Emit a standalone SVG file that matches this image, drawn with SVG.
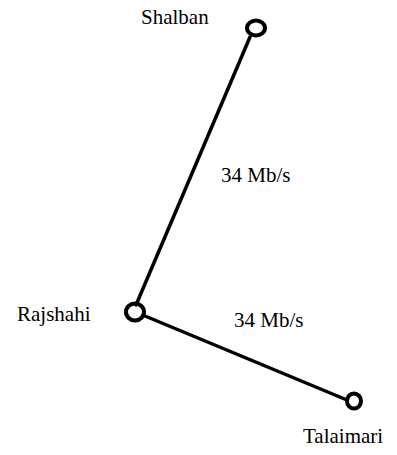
<svg xmlns="http://www.w3.org/2000/svg" width="397" height="455" viewBox="0 0 397 455">
<style>
.lbl{font-family:"Liberation Serif","DejaVu Serif","Times New Roman",serif;font-size:21px;fill:#000}
.node{fill:none;stroke:#000;stroke-width:4}
.link{stroke:#000;stroke-width:3.5;stroke-linecap:round;fill:none}
</style>
<rect width="397" height="455" fill="#fff"/>
<g id="connectors">
<line class="link" x1="136" y1="305" x2="250" y2="37"/>
<line class="link" x1="145" y1="316" x2="347" y2="400"/>
</g>
<g id="shalban">
<ellipse class="node" cx="256" cy="28" rx="9" ry="7.5"/>
<text class="lbl" x="141" y="24">Shalban</text>
</g>
<g id="rajshahi">
<ellipse class="node" cx="135" cy="312" rx="9" ry="8.5"/>
<text class="lbl" x="17" y="321">Rajshahi</text>
</g>
<g id="talaimari">
<ellipse class="node" cx="354" cy="401" rx="7" ry="7.5"/>
<text class="lbl" x="303" y="443">Talaimari</text>
</g>
<g id="labels">
<text class="lbl" x="221" y="182">34 Mb/s</text>
<text class="lbl" x="234" y="327">34 Mb/s</text>
</g>
</svg>
